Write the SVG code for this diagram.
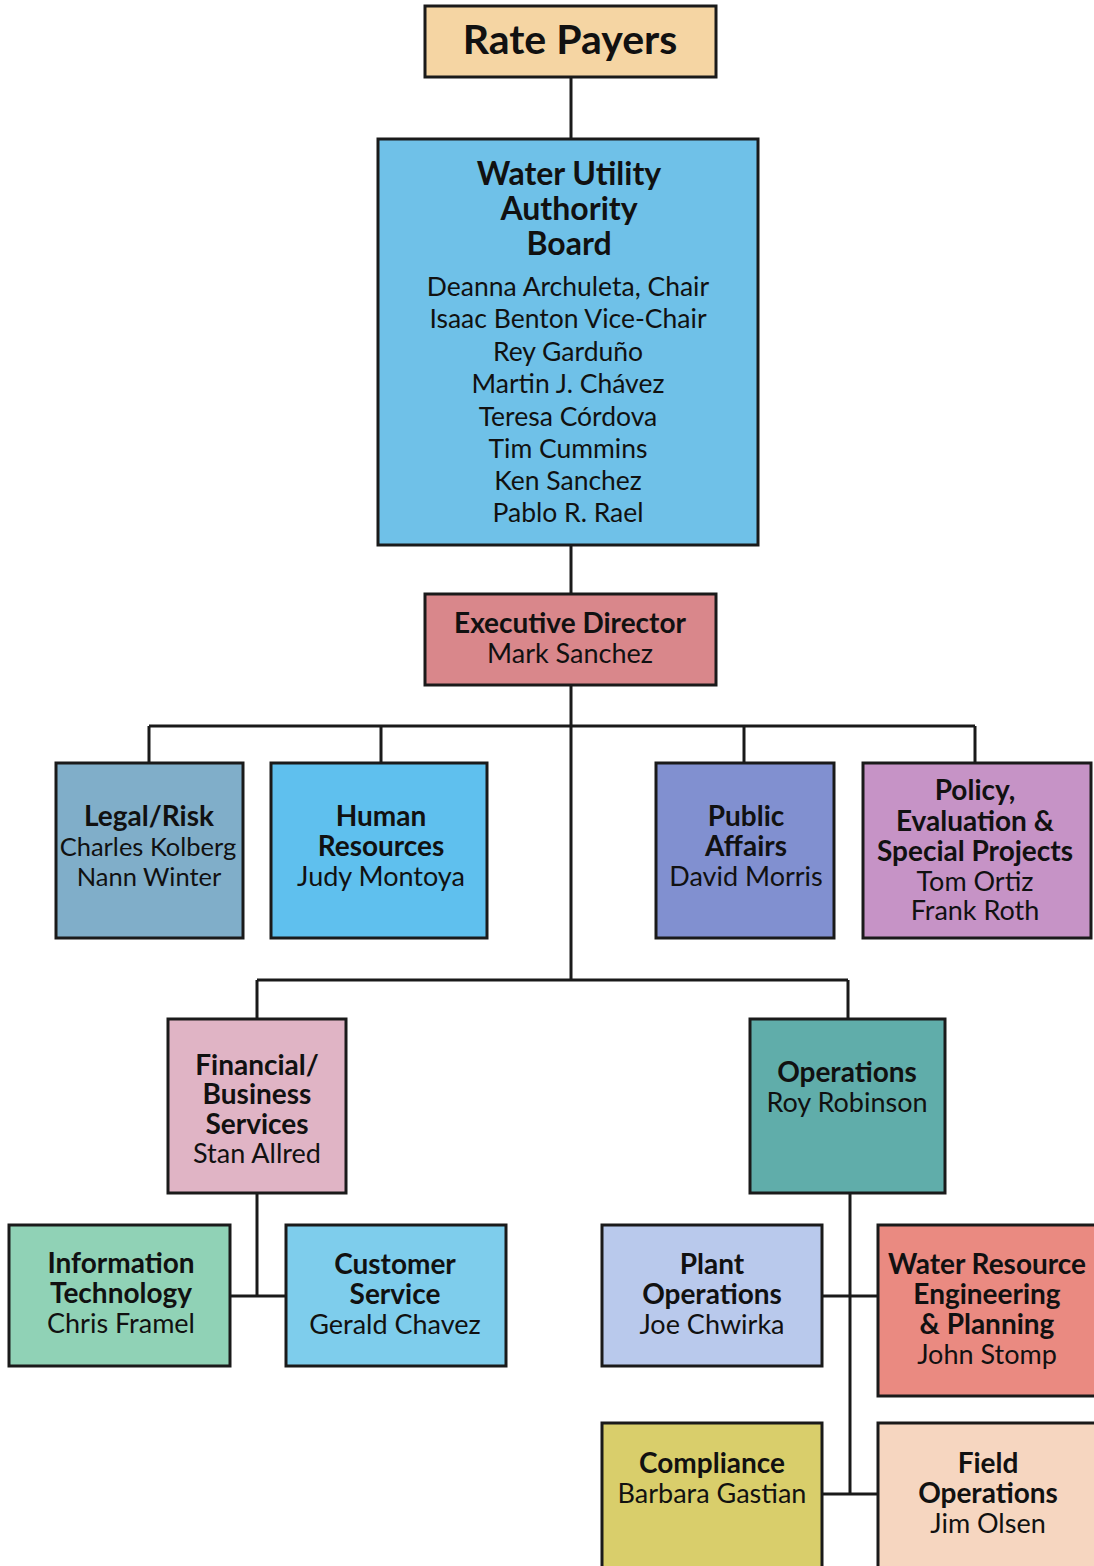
<svg xmlns="http://www.w3.org/2000/svg" width="1094" height="1566" viewBox="0 0 1094 1566">
<style>
.box{stroke:#1a1a1a;stroke-width:3}
.c{fill:none;stroke:#1a1a1a;stroke-width:3}
text{font-family:Lato,"Open Sans",sans-serif;fill:#111;text-anchor:middle;font-size:27px}
.b{font-weight:bold;font-size:28px}
.n{font-size:26.5px}
.s{font-size:25.5px}
</style>
<rect width="1094" height="1566" fill="#ffffff"/>
<g id="connectors">
<path class="c" d="M571 77V139M571 545V594M571 685V980M149 726H975M149 726V763M381 726V763M744 726V763M975 726V763M257 980H848M257 980V1019M848 980V1019M257 1193V1296M230 1296H286M850 1193V1494M822 1296H878M822 1494H878"/>
</g>
<g id="rate-payers"><rect class="box" x="425" y="6" width="291" height="71" fill="#f5d5a3"/><text x="570" y="54" class="b" style="font-size:41px">Rate Payers</text></g>
<g id="board"><rect class="box" x="378" y="139" width="380" height="406" fill="#6fc1e8"/>
<text x="569" y="185" class="b" style="font-size:32px">Water Utility</text>
<text x="569" y="220" class="b" style="font-size:32px">Authority</text>
<text x="569" y="255" class="b" style="font-size:32px">Board</text>
<text x="568" y="296" class="n">Deanna Archuleta, Chair</text>
<text x="568" y="328" class="n">Isaac Benton Vice-Chair</text>
<text x="568" y="361" class="n">Rey Garduño</text>
<text x="568" y="393" class="n">Martin J. Chávez</text>
<text x="568" y="426" class="n">Teresa Córdova</text>
<text x="568" y="458" class="n">Tim Cummins</text>
<text x="568" y="490" class="n">Ken Sanchez</text>
<text x="568" y="522" class="n">Pablo R. Rael</text>
</g>
<g id="exec"><rect class="box" x="425" y="594" width="291" height="91" fill="#d9878b"/><text x="570" y="633" class="b">Executive Director</text><text x="570" y="663">Mark Sanchez</text></g>
<g id="legal"><rect class="box" x="56" y="763" width="187" height="175" fill="#80aec9"/><text x="149" y="826" class="b">Legal/Risk</text><text x="148" y="856" class="s">Charles Kolberg</text><text x="149" y="886" class="s">Nann Winter</text></g>
<g id="hr"><rect class="box" x="271" y="763" width="216" height="175" fill="#5fc0ee"/><text x="381" y="826" class="b">Human</text><text x="381" y="856" class="b">Resources</text><text x="381" y="886">Judy Montoya</text></g>
<g id="public"><rect class="box" x="656" y="763" width="178" height="175" fill="#8190d0"/><text x="746" y="826" class="b">Public</text><text x="746" y="856" class="b">Affairs</text><text x="746" y="886">David Morris</text></g>
<g id="policy"><rect class="box" x="863" y="763" width="228" height="175" fill="#c693c6"/><text x="975" y="800" class="b">Policy,</text><text x="975" y="831" class="b">Evaluation &amp;</text><text x="975" y="861" class="b">Special Projects</text><text x="975" y="891">Tom Ortiz</text><text x="975" y="920">Frank Roth</text></g>
<g id="financial"><rect class="box" x="168" y="1019" width="178" height="174" fill="#e0b4c5"/><text x="257" y="1075" class="b">Financial/</text><text x="257" y="1104" class="b">Business</text><text x="257" y="1134" class="b">Services</text><text x="257" y="1163">Stan Allred</text></g>
<g id="operations"><rect class="box" x="750" y="1019" width="195" height="174" fill="#60adaa"/><text x="847" y="1082" class="b">Operations</text><text x="847" y="1112">Roy Robinson</text></g>
<g id="it"><rect class="box" x="9" y="1225" width="221" height="141" fill="#90d2b6"/><text x="121" y="1273" class="b">Information</text><text x="121" y="1303" class="b">Technology</text><text x="121" y="1333">Chris Framel</text></g>
<g id="customer"><rect class="box" x="286" y="1225" width="220" height="141" fill="#7ecdec"/><text x="395" y="1274" class="b">Customer</text><text x="395" y="1304" class="b">Service</text><text x="395" y="1334">Gerald Chavez</text></g>
<g id="plant"><rect class="box" x="602" y="1225" width="220" height="141" fill="#b9c9ec"/><text x="712" y="1274" class="b">Plant</text><text x="712" y="1304" class="b">Operations</text><text x="712" y="1334">Joe Chwirka</text></g>
<g id="water-resource"><rect class="box" x="878" y="1225" width="218" height="171" fill="#ea8a81"/><text x="987" y="1274" class="b">Water Resource</text><text x="987" y="1304" class="b">Engineering</text><text x="987" y="1334" class="b">&amp; Planning</text><text x="987" y="1364">John Stomp</text></g>
<g id="compliance"><rect class="box" x="602" y="1423" width="220" height="145" fill="#d9ce6b"/><text x="712" y="1473" class="b">Compliance</text><text x="712" y="1503">Barbara Gastian</text></g>
<g id="field"><rect class="box" x="878" y="1423" width="218" height="145" fill="#f6d6c0"/><text x="988" y="1473" class="b">Field</text><text x="988" y="1503" class="b">Operations</text><text x="988" y="1533">Jim Olsen</text></g>
</svg>
